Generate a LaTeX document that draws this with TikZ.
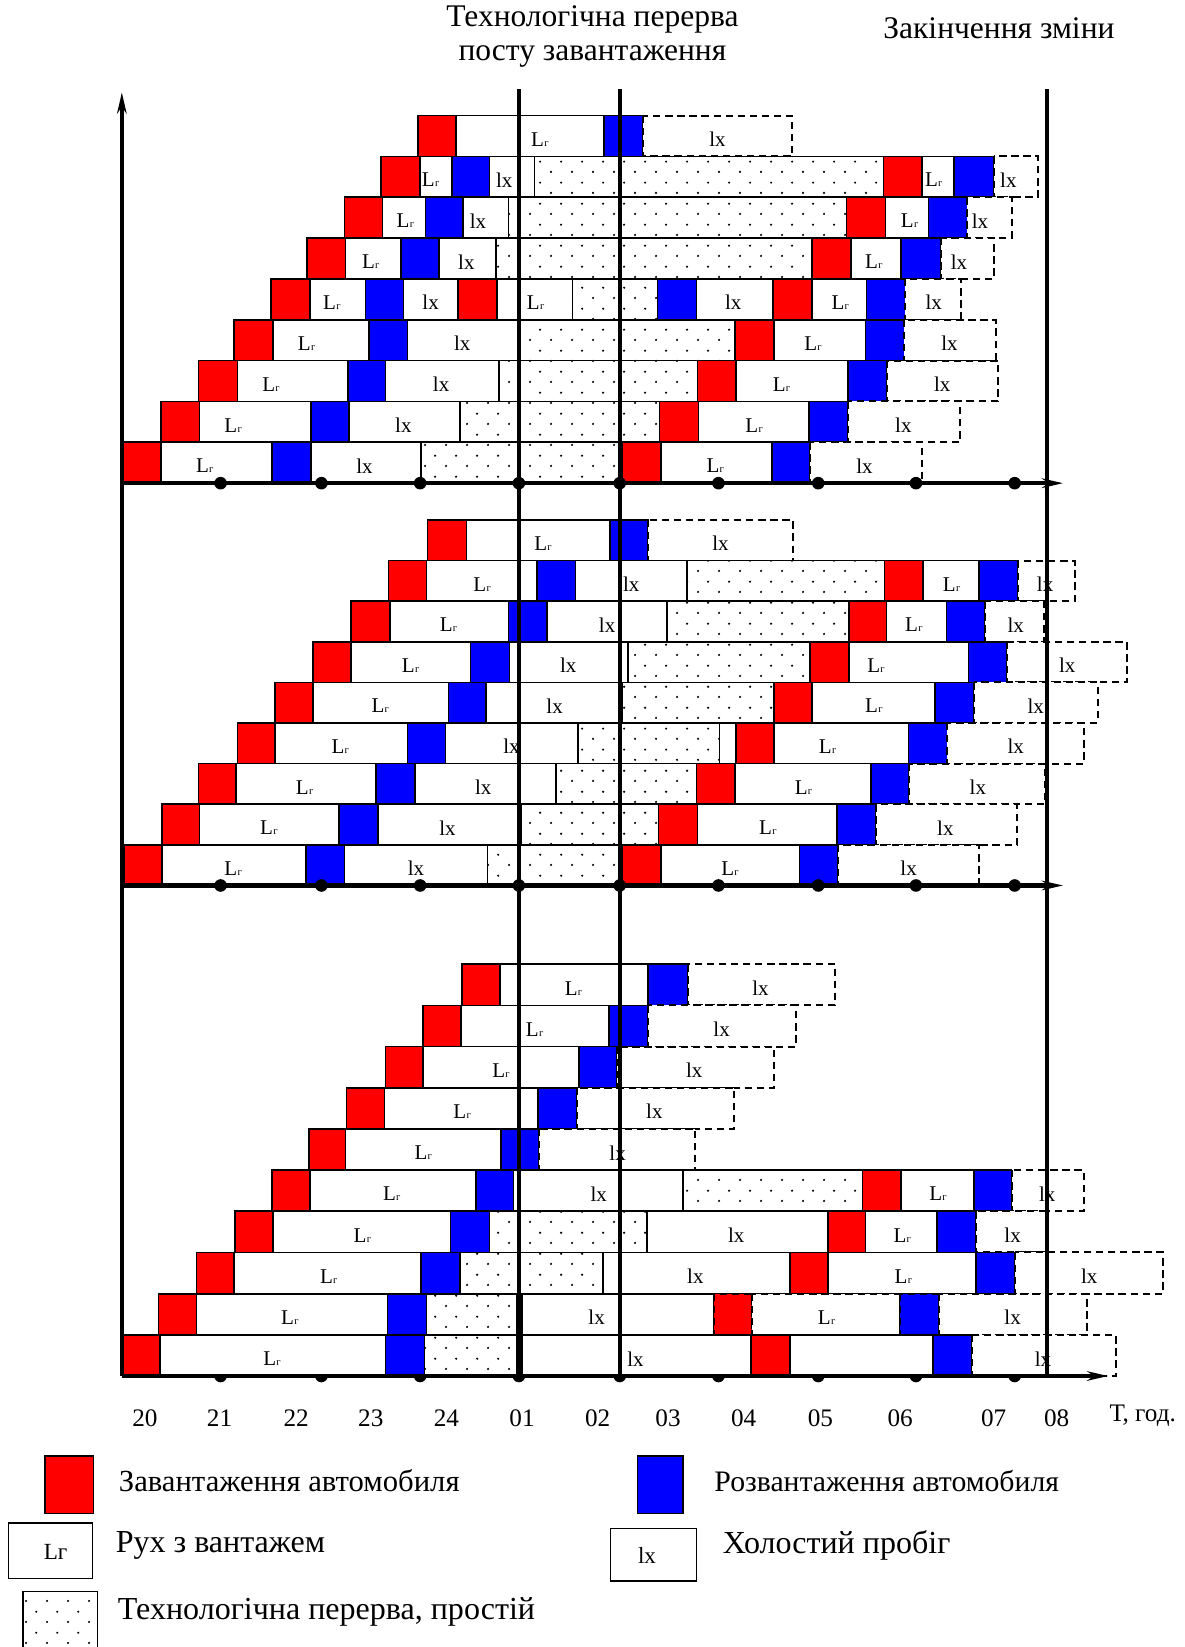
\documentclass[tikz,border=0pt]{standalone}
\usepackage{fontspec}
\setmainfont{Liberation Serif}
\usetikzlibrary{patterns,arrows.meta}
\pgfdeclarepatternformonly{sparsedots}{\pgfqpoint{0pt}{0pt}}{\pgfqpoint{20pt}{20pt}}{\pgfqpoint{20pt}{20pt}}{%
  \pgfpathcircle{\pgfqpoint{5pt}{5pt}}{1.15pt}%
  \pgfpathcircle{\pgfqpoint{15pt}{15pt}}{1.15pt}%
  \pgfusepath{fill}}
\tikzset{
  bx/.style={draw=black,line width=1.6pt},
  rd/.style={bx,fill=red},
  bl/.style={bx,fill=blue},
  wt/.style={bx,fill=white},
  ds/.style={bx,fill=white,line width=1.9pt,dash pattern=on 7pt off 4.5pt},
  rdd/.style={rd,line width=1.9pt,dash pattern=on 7pt off 4.5pt},
  bld/.style={bl,line width=1.9pt,dash pattern=on 7pt off 4.5pt},
  wtd/.style={ds},
  dt/.style={bx,preaction={fill=white},pattern=sparsedots},
  lbl/.style={font=\fontsize{20}{20}\selectfont,inner sep=0pt},
  vline/.style={line width=3.5pt},
  axisline/.style={line width=4pt,-{Stealth[length=20pt,width=9pt]}},
  dotm/.style={fill=black},
  ttl/.style={font=\fontsize{30}{32}\selectfont,inner sep=0pt,align=center},
  tick/.style={font=\fontsize{24}{24}\selectfont,inner sep=0pt},
  leg/.style={font=\fontsize{30.5}{30.5}\selectfont,inner sep=0pt,anchor=west}
}
\newcommand\rowat[2]{\pgfmathsetmacro\rowT{#1}\pgfmathsetmacro\rowB{#1+#2}\pgfmathsetmacro\rowM{#1+#2*0.58}}
\newcommand\sbx[3]{\path[#1] (#2,\rowT) rectangle (#3,\rowB);}
\newcommand\slb[2]{\node[lbl] at (#1,\rowM) {#2};}
\newcommand\Lgr{L\kern0.3pt{\fontsize{10}{10}\selectfont г}}
\begin{document}
\begin{tikzpicture}[x=1pt,y=-1pt]
\useasboundingbox[fill=white] (0,0) rectangle (1128,1568);

% ---------- headers ----------
\node[ttl] (h1) at (564,35) {Технологічна перерва\\посту завантаження};
\node[ttl] (h2) at (951,27) {Закінчення зміни};

% ---------- section 3 dots (behind boxes) ----------
\foreach \x in {210,306,400,494,590,684,779,872,966}
  \fill[dotm] (\x,1310) circle (6);

% ---------- section 1 ----------
\rowat{110}{38.89}
\sbx{rd}{398}{434}\sbx{wt}{434}{575}\sbx{bl}{575}{612}\sbx{ds}{612}{754}
\slb{514}{\Lgr}\slb{683}{lx}
\rowat{148.89}{38.89}
\sbx{rd}{363}{400}\sbx{wt}{400}{430}\sbx{bl}{430}{466}\sbx{wt}{466}{509}\sbx{dt}{509}{841}
\sbx{rd}{841}{878}\sbx{wt}{878}{908}\sbx{bl}{908}{946}\sbx{ds}{946}{988}
\slb{410}{\Lgr}\slb{480}{lx}\slb{889}{\Lgr}\slb{960}{lx}
\rowat{187.78}{38.89}
\sbx{rd}{328}{364}\sbx{wt}{364}{405}\sbx{bl}{405}{441}\sbx{wt}{441}{484}\sbx{dt}{484}{806}
\sbx{rd}{806}{843}\sbx{wt}{843}{884}\sbx{bl}{884}{921}\sbx{ds}{921}{963}
\slb{386}{\Lgr}\slb{455}{lx}\slb{866}{\Lgr}\slb{933}{lx}
\rowat{226.67}{38.89}
\sbx{rd}{292}{329}\sbx{wt}{329}{382}\sbx{bl}{382}{418}\sbx{wt}{418}{472}\sbx{dt}{472}{773}
\sbx{rd}{773}{810}\sbx{wt}{810}{858}\sbx{bl}{858}{896}\sbx{ds}{896}{946}
\slb{353}{\Lgr}\slb{444}{lx}\slb{832}{\Lgr}\slb{913}{lx}
\rowat{265.56}{38.89}
\sbx{rd}{258}{295}\sbx{wt}{295}{348}\sbx{bl}{348}{384}\sbx{wt}{384}{436}\sbx{rd}{436}{473}
\sbx{wt}{473}{545}\sbx{dt}{545}{626}\sbx{bl}{626}{663}\sbx{wt}{663}{736}
\sbx{rd}{736}{773}\sbx{wt}{773}{825}\sbx{bl}{825}{862}\sbx{ds}{862}{915}
\slb{316}{\Lgr}\slb{410}{lx}\slb{510}{\Lgr}\slb{698}{lx}\slb{800}{\Lgr}\slb{889}{lx}
\rowat{304.44}{38.89}
\sbx{rd}{223}{260}\sbx{wt}{260}{351}\sbx{bl}{351}{388}\sbx{wt}{388}{494}\sbx{dt}{494}{700}
\sbx{rd}{700}{737}\sbx{wt}{737}{824}\sbx{bl}{824}{861}\sbx{ds}{861}{948}
\slb{292}{\Lgr}\slb{440}{lx}\slb{774}{\Lgr}\slb{904}{lx}
\rowat{343.33}{38.89}
\sbx{rd}{189}{226}\sbx{wt}{226}{331}\sbx{bl}{331}{367}\sbx{wt}{367}{475}\sbx{dt}{475}{664}
\sbx{rd}{664}{701}\sbx{wt}{701}{807}\sbx{bl}{807}{844}\sbx{ds}{844}{950}
\slb{258}{\Lgr}\slb{420}{lx}\slb{744}{\Lgr}\slb{897}{lx}
\rowat{382.22}{38.89}
\sbx{rd}{153}{190}\sbx{wt}{190}{296}\sbx{bl}{296}{332}\sbx{wt}{332}{438}\sbx{dt}{438}{628}
\sbx{rd}{628}{665}\sbx{wt}{665}{770}\sbx{bl}{770}{807}\sbx{ds}{807}{914}
\slb{222}{\Lgr}\slb{384}{lx}\slb{718}{\Lgr}\slb{860}{lx}
\rowat{421.11}{38.89}
\sbx{rd}{116}{153}\sbx{wt}{153}{259}\sbx{bl}{259}{296}\sbx{wt}{296}{401}\sbx{dt}{401}{592}
\sbx{rd}{592}{629}\sbx{wt}{629}{735}\sbx{bl}{735}{771}\sbx{ds}{771}{878}
\slb{195}{\Lgr}\slb{347}{lx}\slb{681}{\Lgr}\slb{823}{lx}

% ---------- section 2 ----------
\rowat{495}{38.67}
\sbx{rd}{407}{444}\sbx{wt}{444}{581}\sbx{bl}{581}{617}\sbx{ds}{617}{755}
\slb{517}{\Lgr}\slb{686}{lx}
\rowat{533.67}{38.67}
\sbx{rd}{370}{406}\sbx{wt}{406}{511}\sbx{bl}{511}{548}\sbx{wt}{548}{654}\sbx{dt}{654}{842}
\sbx{rd}{842}{879}\sbx{wt}{879}{932}\sbx{bl}{932}{969}\sbx{ds}{969}{1023}
\slb{459}{\Lgr}\slb{601}{lx}\slb{906}{\Lgr}\slb{995}{lx}
\rowat{572.33}{38.67}
\sbx{rd}{334}{371}\sbx{wt}{371}{484}\sbx{bl}{484}{521}\sbx{wt}{521}{635}\sbx{dt}{635}{808}
\sbx{rd}{808}{844}\sbx{wt}{844}{901}\sbx{bl}{901}{938}\sbx{ds}{938}{994}
\slb{427}{\Lgr}\slb{578}{lx}\slb{870}{\Lgr}\slb{967}{lx}
\rowat{611}{38.67}
\sbx{rd}{298}{334}\sbx{wt}{334}{448}\sbx{bl}{448}{485}\sbx{wt}{485}{598}\sbx{dt}{598}{771}
\sbx{rd}{771}{808}\sbx{wt}{808}{922}\sbx{bl}{922}{959}\sbx{ds}{959}{1073}
\slb{391}{\Lgr}\slb{541}{lx}\slb{834}{\Lgr}\slb{1016}{lx}
\rowat{649.67}{38.67}
\sbx{rd}{262}{298}\sbx{wt}{298}{427}\sbx{bl}{427}{463}\sbx{wt}{463}{592}\sbx{dt}{592}{737}
\sbx{rd}{737}{773}\sbx{wt}{773}{890}\sbx{bl}{890}{927}\sbx{ds}{927}{1045}
\slb{362}{\Lgr}\slb{528}{lx}\slb{832}{\Lgr}\slb{986}{lx}
\rowat{688.33}{38.67}
\sbx{rd}{226}{262}\sbx{wt}{262}{388}\sbx{bl}{388}{424}\sbx{wt}{424}{550}\sbx{dt}{550}{685}
\sbx{rd}{701}{737}\sbx{wt}{737}{865}\sbx{bl}{865}{902}\sbx{ds}{902}{1032}
\slb{324}{\Lgr}\slb{487}{lx}\slb{788}{\Lgr}\slb{967}{lx}
\rowat{727}{38.67}
\sbx{rd}{189}{225}\sbx{wt}{225}{358}\sbx{bl}{358}{395}\sbx{wt}{395}{529}\sbx{dt}{529}{663}
\sbx{rd}{663}{700}\sbx{wt}{700}{829}\sbx{bl}{829}{865}\sbx{ds}{865}{995}
\slb{290}{\Lgr}\slb{460}{lx}\slb{765}{\Lgr}\slb{931}{lx}
\rowat{765.67}{38.67}
\sbx{rd}{154}{190}\sbx{wt}{190}{323}\sbx{bl}{323}{360}\sbx{wt}{360}{496}\sbx{dt}{496}{627}
\sbx{rd}{627}{664}\sbx{wt}{664}{797}\sbx{bl}{797}{834}\sbx{ds}{834}{968}
\slb{256}{\Lgr}\slb{426}{lx}\slb{731}{\Lgr}\slb{900}{lx}
\rowat{804.33}{38.67}
\sbx{rd}{118}{154}\sbx{wt}{154}{291}\sbx{bl}{291}{328}\sbx{wt}{328}{464}\sbx{dt}{464}{592}
\sbx{rd}{592}{629}\sbx{wt}{629}{761}\sbx{bl}{761}{798}\sbx{ds}{798}{932}
\slb{222}{\Lgr}\slb{396}{lx}\slb{695}{\Lgr}\slb{865}{lx}

% ---------- section 3 ----------
\rowat{918}{39.2}
\sbx{rd}{440}{476}\sbx{wt}{476}{617}\sbx{bl}{617}{655}\sbx{ds}{655}{795}
\slb{546}{\Lgr}\slb{724}{lx}
\rowat{957.2}{39.2}
\sbx{rd}{403}{439}\sbx{wt}{439}{580}\sbx{bl}{580}{617}\sbx{ds}{617}{758}
\slb{509}{\Lgr}\slb{687}{lx}
\rowat{996.4}{39.2}
\sbx{rd}{367}{403}\sbx{wt}{403}{551}\sbx{bl}{551}{587}\sbx{ds}{587}{737}
\slb{477}{\Lgr}\slb{661}{lx}
\rowat{1035.6}{39.2}
\sbx{rd}{330}{366}\sbx{wt}{366}{512}\sbx{bl}{512}{549}\sbx{ds}{549}{699}
\slb{440}{\Lgr}\slb{623}{lx}
\rowat{1074.8}{39.2}
\sbx{rd}{294}{329}\sbx{wt}{329}{477}\sbx{bl}{477}{513}\sbx{ds}{513}{662}
\slb{403}{\Lgr}\slb{588}{lx}
\rowat{1114}{39.2}
\sbx{rd}{259}{295}\sbx{wt}{295}{453}\sbx{bl}{453}{489}\sbx{wt}{489}{650}\sbx{dt}{650}{821}
\sbx{rd}{821}{858}\sbx{wt}{858}{927}\sbx{bl}{927}{963}\sbx{ds}{963}{1032}
\slb{373}{\Lgr}\slb{570}{lx}\slb{893}{\Lgr}\slb{997}{lx}
\rowat{1153.2}{39.2}
\sbx{rd}{224}{260}\sbx{wt}{260}{429}\sbx{bl}{429}{466}\sbx{dt}{466}{616}\sbx{wt}{616}{788}
\sbx{rd}{788}{824}\sbx{wt}{824}{892}\sbx{bl}{892}{929}\sbx{ds}{929}{998}
\slb{345}{\Lgr}\slb{701}{lx}\slb{859}{\Lgr}\slb{964}{lx}
\rowat{1192.4}{39.2}
\sbx{rd}{187}{223}\sbx{wt}{223}{401}\sbx{bl}{401}{438}\sbx{dt}{438}{574}\sbx{wt}{574}{752}
\sbx{rd}{752}{788}\sbx{wt}{788}{929}\sbx{bl}{929}{966}\sbx{ds}{966}{1107}
\slb{313}{\Lgr}\slb{662}{lx}\slb{860}{\Lgr}\slb{1037}{lx}
\rowat{1231.6}{39.2}
\sbx{rd}{151}{187}\sbx{wt}{187}{369}\sbx{bl}{369}{406}\sbx{dt}{406}{492}\sbx{wt}{497}{680}
\sbx{rdd}{680}{716}\sbx{wtd}{716}{857}\sbx{bld}{857}{894}\sbx{ds}{894}{1035}
\slb{276}{\Lgr}\slb{568}{lx}\slb{787}{\Lgr}\slb{964}{lx}
\rowat{1270.8}{39.2}
\sbx{rd}{117}{152}\sbx{wt}{152}{367}\sbx{bl}{367}{404}\sbx{dt}{404}{492}\sbx{wt}{497}{715}
\sbx{rd}{715}{752}\sbx{wt}{752}{888}\sbx{bl}{888}{925}\sbx{ds}{925}{1062}
\slb{259}{\Lgr}\slb{605}{lx}\slb{993}{lx}

% ---------- axes and lines ----------
\coordinate (o1) at (116,460);
\coordinate (e1) at (1012,460);
\coordinate (o2) at (116,843);
\coordinate (e2) at (1012,843);
\coordinate (o3) at (116,1310);
\coordinate (e3) at (1055,1310);
\coordinate (ytop) at (116,88);
\draw[axisline] (o3) -- (ytop);
\draw[axisline] (o1) -- (e1);
\draw[axisline] (o2) -- (e2);
\draw[axisline] (o3) -- (e3);
\foreach \x in {494,590,997}
  \draw[vline] (\x,85) -- (\x,1310);
\foreach \y in {460,843}
  \foreach \x in {210,306,400,494,590,684,779,872,966}
    \fill[dotm] (\x,\y) circle (6);

% ---------- tick labels ----------
\foreach \t/\x in {20/138,21/209,22/282,23/353,24/425,01/497,02/569,03/636,04/708,05/781,06/857,07/946,08/1006}
  \node[tick] at (\x,1350) {\t};
\node[tick] at (1088,1348) {Т, год.};

% ---------- legend ----------
\path[rd] (43,1386) rectangle (89,1441);
\node[leg,font=\fontsize{29.2}{29.2}\selectfont] at (113,1410) {Завантаження автомобиля};
\path[bl] (607,1386) rectangle (650,1441);
\node[leg,font=\fontsize{28.3}{28.3}\selectfont] at (680,1410) {Розвантаження автомобиля};
\path[wt,line width=1.3pt] (8,1450) rectangle (88,1503);
\node[font=\fontsize{22}{22}\selectfont,inner sep=0pt] at (53,1477) {Lг};
\node[leg] at (110,1471) {Рух з вантажем};
\path[wt,line width=1.3pt] (581,1455) rectangle (663,1505);
\node[font=\fontsize{22}{22}\selectfont,inner sep=0pt] at (616,1481) {lx};
\node[leg] at (688,1471) {Холостий пробіг};
\path[dt,line width=1.3pt] (22,1515) rectangle (93,1580);
\node[leg] at (112,1535) {Технологічна перерва, простій};
\end{tikzpicture}
\end{document}
